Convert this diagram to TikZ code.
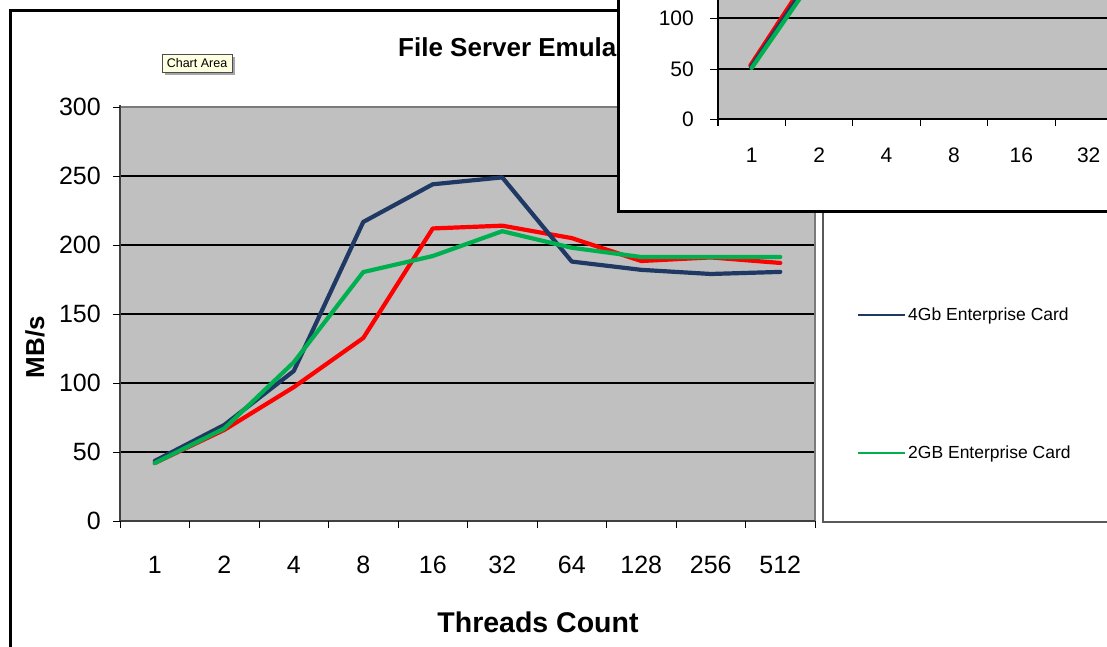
\documentclass[tikz,border=0pt]{standalone}
\usepackage{fontspec}
\setmainfont{Liberation Sans}
\definecolor{plotgray}{HTML}{C0C0C0}
\definecolor{framegray}{HTML}{7A7A7A}
\definecolor{navy}{HTML}{1F3864}
\definecolor{xlred}{HTML}{FF0000}
\definecolor{xlgreen}{HTML}{00B050}
\definecolor{tipfill}{HTML}{FFFFE1}
\begin{document}
\begin{tikzpicture}[x=1pt,y=-1pt,
  series/.style={line width=4.2pt, line join=round, line cap=round},
  gridline/.style={black, line width=1.1pt},
  axisline/.style={black!75, line width=1.4pt},
  tickmark/.style={black, line width=1pt},
  ticklbl/.style={font=\fontsize{25}{25}\selectfont, inner sep=0pt},
  smalllbl/.style={font=\fontsize{21}{21}\selectfont, inner sep=0pt},
  legendlbl/.style={font=\fontsize{17.5}{17.5}\selectfont, inner sep=0pt, anchor=west},
  legendline/.style={line width=2.5pt},
  frameline/.style={black, line width=3pt}]

\useasboundingbox (0,0) rectangle (1107,646);
\fill[white] (0,0) rectangle (1107,646);

% chart area frame
\draw[frameline] (10,660) -- (10,10) -- (640,10);

% title (the rest is hidden by the window in front)
\node[anchor=west, inner sep=0pt, font=\bfseries\fontsize{26}{26}\selectfont] (title) at (398,47) {File Server Emula};

% hover tip
\fill[black!35] (165,57) rectangle (235,75);
\node[draw=black!70, fill=tipfill, line width=0.6pt, minimum width=70pt, minimum height=18pt,
      inner sep=0pt, font=\fontsize{12.5}{12.5}\selectfont] (tip) at (197,63) {Chart Area};

% plot area
\fill[plotgray] (120,107) rectangle (815,521);
\foreach \yy in {176,245,314,383,452} \draw[gridline] (120,\yy) -- (815,\yy);
\draw[framegray, line width=1.6pt] (120,107) -- (815,107) -- (815,521);
\draw[axisline] (120,105) -- (120,521);
\draw[axisline] (120,521) -- (815,521);
\foreach \yy in {107,176,245,314,383,452,521} \draw[tickmark] (113,\yy) -- (120,\yy);
\foreach \k in {0,...,10} \draw[tickmark] ({120+69.5*\k},521) -- ({120+69.5*\k},528);

% value labels
\foreach \v/\yy in {300/107,250/176,200/245,150/314,100/383,50/452,0/521}
  \node[ticklbl, anchor=east] (yl\v) at (101,\yy) {\v};
% category labels
\foreach \c [count=\i from 0] in {1,2,4,8,16,32,64,128,256,512}
  \node[ticklbl] (xl\c) at ({154.75+69.5*\i},565) {\c};

% axis titles
\node[font=\bfseries\fontsize{28.5}{28.5}\selectfont, inner sep=0pt] (xtitle) at (538,622) {Threads Count};
\node[font=\bfseries\fontsize{26}{26}\selectfont, inner sep=0pt, rotate=90] (ytitle) at (35,347) {MB/s};

% data series
\begin{scope}[shift={(120pt,-521pt)}, x=69.5pt, y=1.38pt]
  \draw[series, xlred] plot coordinates {(0.5,42) (1.5,66) (2.5,97) (3.5,132.6) (4.5,212) (5.5,214) (6.5,205) (7.5,188.4) (8.5,191) (9.5,187)};
  \draw[series, navy] plot coordinates {(0.5,43.5) (1.5,69.6) (2.5,108.7) (3.5,216.7) (4.5,244) (5.5,249) (6.5,188) (7.5,182) (8.5,179) (9.5,180.5)};
  \draw[series, xlgreen] plot coordinates {(0.5,42) (1.5,67) (2.5,115) (3.5,180.4) (4.5,192) (5.5,210) (6.5,198) (7.5,191.3) (8.5,191.3) (9.5,191.3)};
\end{scope}

% legend
\draw[black!65, fill=white, line width=1.2pt] (823,150) rectangle (1120,522);
\draw[legendline, navy] (858,315) -- (905,315);
\node[legendlbl] (leg4gb) at (908,316) {4Gb Enterprise Card};
\draw[legendline, xlgreen] (858,453) -- (905,453);
\node[legendlbl] (leg2gb) at (908,454) {2GB Enterprise Card};

% second chart window in front
\fill[white] (618,-10) rectangle (1120,211);
\fill[plotgray] (718,-10) rectangle (1120,119);
\foreach \yy in {18,69} \draw[gridline] (718,\yy) -- (1120,\yy);
\draw[black, line width=1.3pt] (718,-10) -- (718,126);
\draw[black, line width=1.3pt] (718,119) -- (1120,119);
\foreach \yy in {18,69,119} \draw[tickmark] (710,\yy) -- (718,\yy);
\foreach \k in {0,...,6} \draw[tickmark] ({718+67.4*\k},119) -- ({718+67.4*\k},126);
\foreach \v/\yy in {100/18,50/69,0/119}
  \node[smalllbl, anchor=east] (zyl\v) at (694,\yy) {\v};
\foreach \c [count=\i from 0] in {1,2,4,8,16,32}
  \node[smalllbl] (zxl\c) at ({751.7+67.4*\i},155) {\c};
\begin{scope}
  \clip (718,-10) rectangle (1120,119);
  \begin{scope}[shift={(718pt,-119pt)}, x=67.4pt, y=1.01pt]
    \draw[series, xlred] plot coordinates {(0.48,53) (1.5,157)};
    \draw[series, navy] plot coordinates {(0.49,51.5) (1.5,152)};
    \draw[series, xlgreen] plot coordinates {(0.5,50.5) (1.5,147)};
  \end{scope}
\end{scope}
\draw[frameline] (618,-10) -- (618,211) -- (1120,211);
\end{tikzpicture}
\end{document}
